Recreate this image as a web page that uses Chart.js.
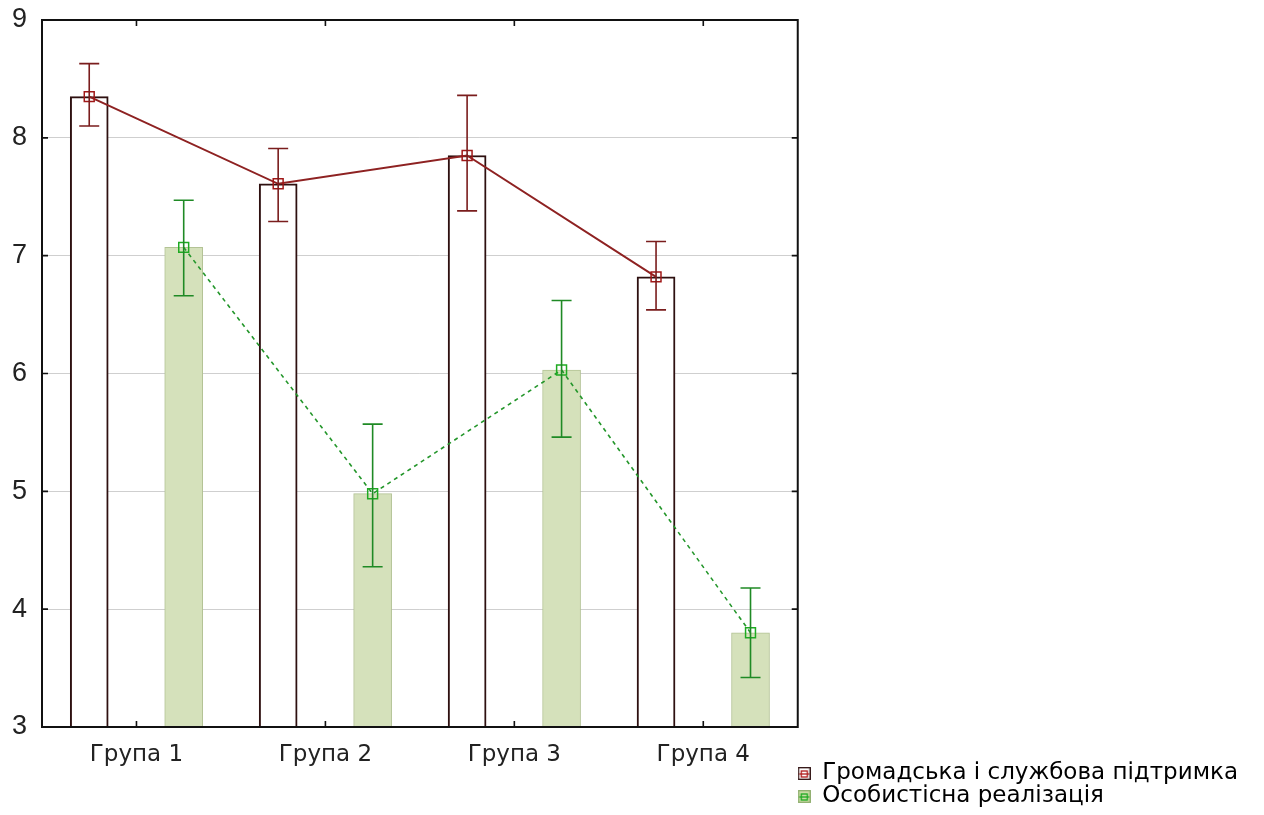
<!DOCTYPE html>
<html>
<head>
<meta charset="utf-8">
<script src="https://cdn.jsdelivr.net/npm/chart.js@4.4.1/dist/chart.umd.min.js"></script>
<style>
  html, body { margin: 0; padding: 0; background: #ffffff; }
  #wrap { width: 1264px; height: 815px; }
</style>
</head>
<body>
<div id="wrap"><canvas id="groupChart"></canvas></div>
<script>
const groups = ["Група 1", "Група 2", "Група 3", "Група 4"];
const seriesNames = ["Громадська і службова підтримка", "Особистісна реалізація"];

const supportMean = [8.35, 7.61, 7.85, 6.82];
const supportLow = [8.10, 7.29, 7.38, 6.54];
const supportHigh = [8.63, 7.91, 8.36, 7.12];

const realizMean = [7.07, 4.98, 6.03, 3.80];
const realizLow = [6.66, 4.36, 5.46, 3.42];
const realizHigh = [7.47, 5.57, 6.62, 4.18];

const yTicks = [3, 4, 5, 6, 7, 8, 9];

const red = "#8e2222";
const redDark = "#2e1010";
const green = "#23962a";
const greenFill = "#d5e1bb";
const font = "'Liberation Sans', Arial, sans-serif";
const wideFont = "'DejaVu Sans', Verdana, sans-serif";

// bars sit a quarter group to the left / right of the group centre
const shift = 0.25;
const supportPts = supportMean.map((v, i) => ({ x: i - shift, y: v }));
const realizPts = realizMean.map((v, i) => ({ x: i + shift, y: v }));

// little legend icons like the original (box + marker)
const makeIcon = (fill, border, mark) => {
    const c = document.createElement("canvas");
    c.width = 13; c.height = 13;
    const g = c.getContext("2d");
    g.fillStyle = fill;
    g.fillRect(0.5, 0.5, 12, 12);
    g.strokeStyle = border;
    g.lineWidth = 1.3;
    g.strokeRect(0.7, 0.7, 11.6, 11.6);
    g.strokeStyle = mark;
    g.lineWidth = 1.3;
    g.beginPath();
    g.moveTo(1.5, 7); g.lineTo(11.5, 7);
    g.stroke();
    g.strokeRect(3.5, 4, 6, 6);
    return c;
};

// error bars + frame + inward ticks
const extras = {
    id: "extras",
    afterDatasetsDraw(chart) {
        const ctx = chart.ctx;
        const { x, y } = chart.scales;
        const sets = [
            { pts: supportPts, lo: supportLow, hi: supportHigh, color: "#7a1d1d" },
            { pts: realizPts, lo: realizLow, hi: realizHigh, color: "#1f8a25" },
        ];
        ctx.save();
        sets.forEach(s => {
            ctx.strokeStyle = s.color;
            ctx.lineWidth = 1.6;
            s.pts.forEach((p, i) => {
                const px = x.getPixelForValue(p.x);
                const yl = y.getPixelForValue(s.lo[i]);
                const yh = y.getPixelForValue(s.hi[i]);
                ctx.beginPath();
                ctx.moveTo(px, yl); ctx.lineTo(px, yh);
                ctx.moveTo(px - 10, yl); ctx.lineTo(px + 10, yl);
                ctx.moveTo(px - 10, yh); ctx.lineTo(px + 10, yh);
                ctx.stroke();
            });
        });
        ctx.restore();
    },
    afterDraw(chart) {
        const { ctx, chartArea: a, scales } = chart;
        ctx.save();
        ctx.strokeStyle = "#111111";
        ctx.lineWidth = 1.6;
        ctx.beginPath();
        yTicks.forEach(v => {
            const py = scales.y.getPixelForValue(v);
            ctx.moveTo(a.left, py); ctx.lineTo(a.left + 6, py);
            ctx.moveTo(a.right, py); ctx.lineTo(a.right - 6, py);
        });
        groups.forEach((g, i) => {
            const px = scales.x.getPixelForValue(i);
            ctx.moveTo(px, a.bottom); ctx.lineTo(px, a.bottom - 6);
            ctx.moveTo(px, a.top); ctx.lineTo(px, a.top + 6);
        });
        ctx.stroke();
        ctx.lineWidth = 2;
        ctx.strokeRect(a.left, a.top, a.right - a.left, a.bottom - a.top);
        ctx.restore();
    }
};

const data = {
    datasets: [
        {
            type: "line",
            label: seriesNames[0],
            data: supportPts,
            borderColor: red,
            borderWidth: 2,
            pointStyle: "rect",
            pointRadius: 7,
            pointBorderWidth: 1.5,
            pointBorderColor: "#a01818",
            pointBackgroundColor: "rgba(255,255,255,0)",
            order: 0,
        },
        {
            type: "line",
            label: seriesNames[1],
            data: realizPts,
            borderColor: green,
            borderWidth: 1.6,
            borderDash: [4, 4],
            pointStyle: "rect",
            pointRadius: 7,
            pointBorderWidth: 1.5,
            pointBorderColor: "#1faa22",
            pointBackgroundColor: "rgba(255,255,255,0)",
            order: 0,
        },
        {
            type: "bar",
            label: seriesNames[0],
            data: supportPts,
            backgroundColor: "#ffffff",
            borderColor: redDark,
            borderWidth: 2,
            order: 1,
        },
        {
            type: "bar",
            label: seriesNames[1],
            data: realizPts,
            backgroundColor: greenFill,
            borderColor: "#b3c395",
            borderWidth: 1,
            order: 1,
        },
    ],
};

const options = {
    responsive: true,
    maintainAspectRatio: false,
    animation: false,
    layout: { padding: { top: 20, right: 16, bottom: 7, left: 0 } },
    datasets: { bar: { grouped: false, barThickness: 38 } },
    scales: {
        x: {
            type: "linear",
            min: -0.5,
            max: 3.5,
            offset: false,
            grid: { display: false, drawTicks: false, offset: false },
            border: { display: false },
            afterBuildTicks: (s) => { s.ticks = groups.map((g, i) => ({ value: i })); },
            ticks: {
                color: "#222222",
                font: { family: wideFont, size: 23 },
                padding: 14,
                maxRotation: 0,
                autoSkip: false,
                callback: (v) => groups[v],
            },
            afterFit: (s) => { s.height = 81; s.paddingLeft = 0; s.paddingRight = 0; },
        },
        y: {
            min: 3,
            max: 9,
            ticks: { stepSize: 1, color: "#222222", font: { family: font, size: 27 }, padding: 15 },
            grid: { color: "#cfcfcf", lineWidth: 1, drawTicks: false },
            border: { display: false },
            afterFit: (s) => { s.width = 42; s.paddingTop = 0; s.paddingBottom = 0; },
        },
    },
    plugins: {
        tooltip: { enabled: false },
        legend: {
            position: "right",
            align: "end",
            maxWidth: 560,
            onClick: null,
            labels: {
                color: "#1a1a1a",
                font: { family: wideFont, size: 23 },
                usePointStyle: true,
                pointStyleWidth: 13,
                padding: 0,
                generateLabels: () => [
                    { text: seriesNames[0], pointStyle: makeIcon("#ffffff", redDark, "#b01c1c"), datasetIndex: 0, hidden: false },
                    { text: seriesNames[1], pointStyle: makeIcon("#c9dca4", "#8fae6e", "#1faa22"), datasetIndex: 1, hidden: false },
                ],
            },
        },
    },
};

const chart = new Chart("groupChart", { type: "bar", data, options, plugins: [extras] });
</script>
</body>
</html>
